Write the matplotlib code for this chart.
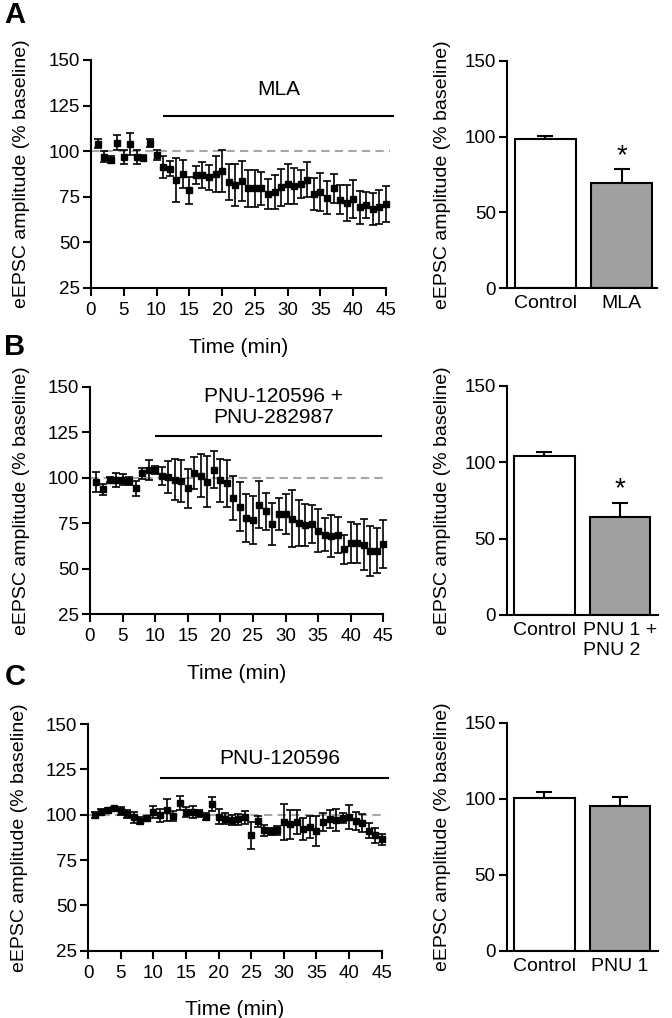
import numpy as np
import matplotlib
matplotlib.use('Agg')
from matplotlib import pyplot as plt

plt.rcParams['font.family'] = ['Liberation Sans', 'DejaVu Sans']
plt.rcParams['font.size'] = 13.5

minutes = np.arange(1, 46)

# panel A: MLA
a_mean = [104, 97, 95.3, 104.7, 96.7, 104, 96.7, 96.5, 104.4, 98,
          91.2, 90.5, 84.3, 87.4, 78.5, 86.9, 86.9, 85.6, 87.4, 89.2,
          83.2, 81.4, 83.8, 79.6, 79.6, 79.6, 76.5, 77.4, 80.1, 82,
          81, 82, 84.3, 76.5, 77.7, 74.6, 79.6, 73.4, 71.5, 74,
          69.2, 70.4, 68.2, 69.2, 71]
a_err = [2.4, 3.2, 2, 4.2, 3.8, 6, 4, 1.4, 2, 2.7,
         6, 4, 12, 7.5, 7.2, 5, 7, 7, 10, 11.5,
         9.7, 11.5, 11, 10.3, 10.3, 9, 8, 9.3, 10.3, 10.8,
         9.8, 7.6, 9.5, 8.8, 10.3, 9, 8, 8, 9.8, 10.4,
         9, 7.3, 8.7, 9.3, 10]

# panel B: PNU-120596 + PNU-282987
b_mean = [97.7, 93.6, 99, 98.6, 99, 98.2, 94.2, 102.4, 104.2, 104.2,
          101, 100.4, 99, 98.2, 94.2, 102.6, 101.2, 97.9, 104.4, 98.6,
          96.9, 88.8, 84.1, 77.8, 76.8, 85.2, 81.5, 74.6, 80.1, 80.1,
          77.5, 75, 73.9, 74.6, 70.9, 68.8, 68, 68.4, 60.7, 64.4,
          64, 63.3, 59.6, 60, 63.7]
b_err = [5.6, 3.2, 1.4, 3.7, 3, 2.3, 4.2, 3, 5.5, 2.3,
         5, 9, 11.3, 11.6, 10.6, 8.9, 11.9, 13.9, 10.2, 11.9,
         12.8, 12, 13.5, 13, 13, 13, 10, 11.3, 8.7, 10.8,
         15.8, 12.6, 11.4, 10.2, 11.7, 9, 11.3, 10, 7.9, 11,
         10.6, 14.2, 13.7, 12.4, 13.3]

# panel C: PNU-120596
c_mean = [99.8, 101.7, 102.6, 103.5, 102, 100.4, 98.5, 96.7, 98, 101.5,
          99.6, 102.6, 99.3, 106.3, 101.5, 101.5, 100.7, 98.9, 105.9, 98.9,
          97.8, 97.1, 97.4, 98.5, 88.6, 96.3, 91.5, 90.8, 91.5, 96,
          94.8, 96, 91.9, 93.4, 91.2, 96, 97.8, 97.1, 98.2, 98.9,
          96.7, 95.2, 91.2, 88.6, 86.4]
c_err = [1.8, 1.5, 1, 1, 2, 2, 3.2, 2, 1.5, 3.5,
         3.5, 5.9, 3, 3.9, 3, 3.5, 2, 2, 3.9, 4,
         3, 3, 3, 3.5, 7.4, 3, 3, 2, 2.5, 9.8,
         8, 6.5, 6, 6, 8.3, 5, 5, 6, 3, 6.6,
         5, 5, 4, 4, 3]

# summary bars
bar_a_labels = ['Control', 'MLA']
bar_a_vals = [98.2, 69.2]
bar_a_errs = [2.4, 9.4]
bar_b_labels = ['Control', 'PNU 1 +\nPNU 2']
bar_b_vals = [104.1, 64.0]
bar_b_errs = [2.9, 9.6]
bar_c_labels = ['Control', 'PNU 1']
bar_c_vals = [100.4, 95.4]
bar_c_errs = [4.0, 5.7]

ylab = 'eEPSC amplitude (% baseline)'


def style(ax):
    for s in ['top', 'right']:
        ax.spines[s].set_visible(False)
    for s in ['left', 'bottom']:
        ax.spines[s].set_linewidth(1.5)
    ax.tick_params(direction='out', length=6, width=1.5, pad=2, labelsize=13.5)


def time_panel(rect, mean, err, drug, drug_x, drug_y, txt_x, txt_y):
    ax = fig.add_axes(rect)
    style(ax)
    ax.plot([0, 45.6], [100, 100], ls='--', color='#a6a6a6', lw=1.5,
            dashes=(4, 2.5), clip_on=False, zorder=1)
    ax.errorbar(minutes, mean, yerr=err, fmt='s', color='black', ms=5,
                elinewidth=1.2, capsize=3, capthick=1.2, clip_on=False, zorder=3)
    ax.plot(drug_x, [drug_y, drug_y], color='black', lw=1.5, clip_on=False)
    ax.text(txt_x, txt_y, drug, ha='center', va='center', fontsize=15,
            linespacing=1.15)
    ax.set_xlim(0, 45)
    ax.set_ylim(25, 150)
    ax.set_xticks(range(0, 46, 5))
    ax.set_yticks(range(25, 151, 25))
    ax.tick_params(axis='x', pad=4)
    ax.set_xlabel('Time (min)', fontsize=15, va='center')
    ax.xaxis.set_label_coords(0.5, -0.26)
    ax.set_ylabel(ylab, fontsize=14, va='center')
    ax.yaxis.set_label_coords(-0.234, 0.5)
    return ax


def bar_panel(rect, labels, vals, errs, star, xmax):
    ax = fig.add_axes(rect)
    style(ax)
    x = np.arange(len(vals))
    ax.bar(x, vals, width=0.8, color=['white', '#a0a0a0'], edgecolor='black',
           linewidth=1.5, zorder=2)
    ax.errorbar(x, vals, yerr=[[0, 0], errs], fmt='none', ecolor='black',
                elinewidth=1.5, capsize=6, capthick=1.5, zorder=1)
    if star:
        ax.text(1, vals[1] + errs[1], '*', ha='center', va='bottom',
                fontsize=20)
    ax.set_xlim(-0.5, xmax)
    ax.set_ylim(0, 150)
    ax.set_yticks([0, 50, 100, 150])
    ax.set_xticks(x)
    ax.set_xticklabels(labels, multialignment='left', va='top')
    ax.tick_params(axis='x', length=0, pad=5, labelsize=14)
    ax.set_ylabel(ylab, fontsize=14, va='center')
    ax.yaxis.set_label_coords(-0.427, 0.5)
    return ax


fig = plt.figure(figsize=(6.72, 10.18), dpi=100)

time_panel([0.1354, 0.7171, 0.4390, 0.2240], a_mean, a_err, 'MLA',
           [11.2, 46.0], 119.3, 28.6, 134)
time_panel([0.1339, 0.3966, 0.4365, 0.2236], b_mean, b_err,
           'PNU-120596 +\nPNU-282987', [10.1, 44.7], 123.1, 28.1, 139)
time_panel([0.1314, 0.0661, 0.4366, 0.2227], c_mean, c_err, 'PNU-120596',
           [11.1, 46.0], 120.0, 29.4, 131)

bar_panel([0.7545, 0.7168, 0.2232, 0.2236], bar_a_labels, bar_a_vals,
          bar_a_errs, True, 1.46)
bar_panel([0.7540, 0.3959, 0.2247, 0.2250], bar_b_labels, bar_b_vals,
          bar_b_errs, True, 1.5)
bar_panel([0.7540, 0.0661, 0.2247, 0.2240], bar_c_labels, bar_c_vals,
          bar_c_errs, False, 1.5)

for letter, yy in [('A', 0.985), ('B', 0.659), ('C', 0.335)]:
    fig.text(0.022, yy, letter, ha='center', va='center', fontsize=21,
             fontweight='bold')

fig.savefig('out.png', dpi=100)
